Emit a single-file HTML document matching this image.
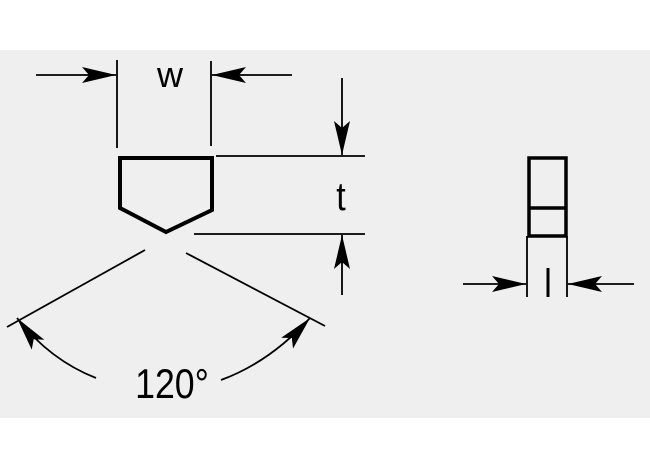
<!DOCTYPE html>
<html><head><style>html,body{margin:0;padding:0;background:#fff}svg{display:block}</style></head>
<body>
<svg width="650" height="468" viewBox="0 0 650 468" xmlns="http://www.w3.org/2000/svg">
<defs>
<marker id="a" viewBox="0 0 34 16" refX="34" refY="8" markerWidth="34" markerHeight="16" markerUnits="userSpaceOnUse" orient="auto">
<path d="M0,0 L34,8 L0,16 L7,8 Z" fill="#000"/>
</marker>
</defs>
<rect x="0" y="50" width="650" height="368" fill="#efefef"/>
<g stroke="#000" fill="none" stroke-width="1.8">
<line x1="36" y1="75" x2="116" y2="75" marker-end="url(#a)"/>
<line x1="292" y1="75" x2="212" y2="75" marker-end="url(#a)"/>
<line x1="117" y1="60" x2="117" y2="148"/>
<line x1="211" y1="61" x2="211" y2="146"/>
<line x1="216" y1="156" x2="365" y2="156"/>
<line x1="194" y1="234" x2="365" y2="234"/>
<line x1="342" y1="78" x2="342" y2="155" marker-end="url(#a)"/>
<line x1="342" y1="295" x2="342" y2="235" marker-end="url(#a)"/>
<line x1="145" y1="250" x2="7" y2="327"/>
<line x1="186" y1="253" x2="325" y2="326"/>
<path d="M96,378 Q50,360 17,318" marker-end="url(#a)"/>
<path d="M221,380 Q270,362 310,318" marker-end="url(#a)"/>
<line x1="527" y1="236" x2="527" y2="297"/>
<line x1="567" y1="236" x2="567" y2="297"/>
<line x1="463" y1="284" x2="526" y2="284" marker-end="url(#a)"/>
<line x1="634" y1="284" x2="568" y2="284" marker-end="url(#a)"/>
</g>
<polygon points="120,158 212,158 212,210 166,232 120,208" fill="none" stroke="#000" stroke-width="4"/>
<rect x="529" y="158" width="37" height="78" fill="none" stroke="#000" stroke-width="3.5"/>
<line x1="529" y1="208" x2="566" y2="208" stroke="#000" stroke-width="3.5"/>
<line x1="548" y1="268" x2="548" y2="297" stroke="#000" stroke-width="3"/>
<g font-family="Liberation Sans, sans-serif" fill="#000">
<text x="170" y="87" font-size="36" text-anchor="middle">w</text>
<text transform="translate(341,210) scale(0.85,1)" font-size="40" text-anchor="middle">t</text>
<text transform="translate(172,398) scale(0.85,1)" font-size="42" text-anchor="middle">120°</text>
</g>
</svg>
</body></html>
